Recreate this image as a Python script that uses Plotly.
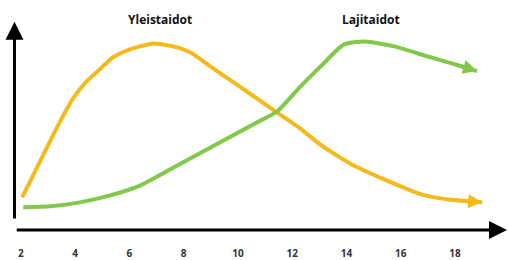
import plotly.graph_objects as go

# Age ticks
tick_vals = [2, 4, 6, 8, 10, 12, 14, 16, 18]
tick_labels = ["2", "4", "6", "8", "10", "12", "14", "16", "18"]

# Yleistaidot (general skills) curve
yleis_x = [2.05, 3.08, 3.45, 3.92, 4.44, 4.92, 5.40, 6.02, 6.39, 6.87, 7.61, 8.24,
           8.97, 9.71, 10.45, 11.18, 11.92, 12.29, 13.06, 14.28, 15.49, 16.75, 17.70, 19.0]
yleis_y = [16, 44.5, 54.5, 66, 75, 81, 87, 91, 92.5, 94, 92.5, 89.5,
           82.5, 75.5, 68.5, 61.5, 54.5, 51, 42.5, 32, 24.5, 17.5, 15, 13.5]

# Lajitaidot (sport-specific skills) curve
laji_x = [2.09, 3.08, 4.18, 5.29, 6.39, 7.61, 9.45, 10.70, 11.44, 12.29, 13.06,
          13.91, 14.65, 15.76, 16.97, 17.97, 18.81]
laji_y = [11, 11.5, 13.5, 17, 22, 31, 44.7, 54, 59.5, 72, 82.5,
          93.5, 95, 92.5, 87.5, 83.5, 80]

labels = ["Yleistaidot", "Lajitaidot"]
label_x = [7.13, 14.9]
label_y = [106, 106]

YELLOW = "#F5B919"
GREEN = "#82C84B"

fig = go.Figure()


def add_curve(xs, ys, color):
    fig.add_trace(go.Scatter(
        x=xs, y=ys, mode="lines",
        line=dict(color=color, width=4, shape="spline", smoothing=0.6),
        hoverinfo="skip", showlegend=False,
    ))
    # arrowhead at the end of the curve, along the last segment
    fig.add_annotation(x=xs[-1], y=ys[-1], ax=xs[-2], ay=ys[-2], xref="x", yref="y",
                       axref="x", ayref="y", text="", showarrow=True,
                       arrowhead=2, arrowsize=0.7, arrowwidth=4, arrowcolor=color)


add_curve(yleis_x, yleis_y, YELLOW)
add_curve(laji_x, laji_y, GREEN)

for t, x, y in zip(labels, label_x, label_y):
    fig.add_annotation(x=x, y=y, xref="x", yref="y", text="<b>" + t + "</b>",
                       showarrow=False, font=dict(family="Open Sans", size=12, color="#111111"))

# axis arrows
fig.add_annotation(x=0.0285, y=0.905, ax=0.0285, ay=0.039, xref="x domain", yref="y domain",
                   axref="x domain", ayref="y domain", text="", showarrow=True,
                   arrowhead=2, arrowsize=1.2, arrowwidth=3, arrowcolor="#000000")
fig.add_annotation(x=0.998, y=-0.004, ax=0.03, ay=-0.004, xref="x domain", yref="y domain",
                   axref="x domain", ayref="y domain", text="", showarrow=True,
                   arrowhead=2, arrowsize=1.2, arrowwidth=3, arrowcolor="#000000")

fig.update_layout(
    width=508, height=260,
    margin=dict(l=0, r=0, t=0, b=28),
    paper_bgcolor="white", plot_bgcolor="white",
    xaxis=dict(range=[1.234, 19.952], showgrid=False, zeroline=False, showline=False,
               tickmode="array", tickvals=tick_vals, ticktext=["<b>" + s + "</b>" for s in tick_labels],
               ticks="outside", ticklen=15, tickcolor="rgba(0,0,0,0)",
               tickfont=dict(family="Open Sans", size=10, color="#333333")),
    yaxis=dict(range=[0, 116], showgrid=False, zeroline=False, showline=False,
               showticklabels=False),
)

fig.write_html("out.html", config={"displayModeBar": False},
               post_script="document.body.style.margin='0';document.body.style.overflow='hidden';")
